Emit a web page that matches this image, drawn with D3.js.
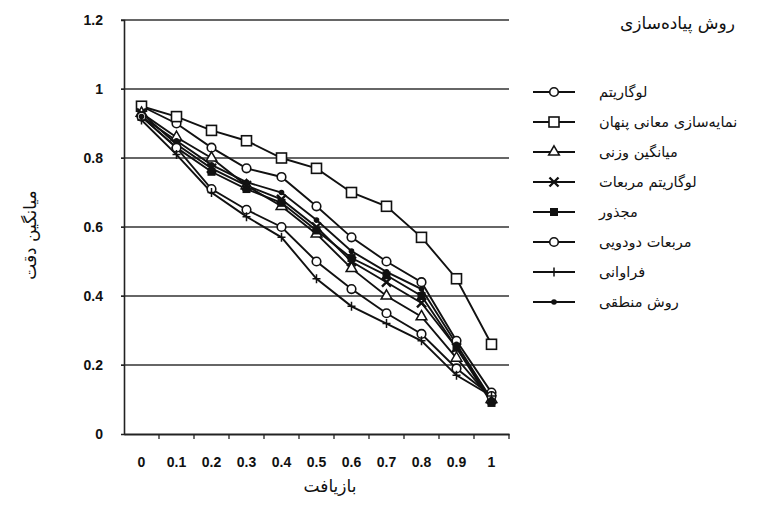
<!DOCTYPE html>
<html>
<head>
<meta charset="utf-8">
<script src="https://cdn.jsdelivr.net/npm/d3@7"></script>
<style>
  body { margin: 0; background: #fff; }
  .tick text { font-family: "Liberation Sans", Arial, sans-serif; font-weight: bold; font-size: 14px; fill: #111; }
  .fa { font-family: "DejaVu Sans", sans-serif; fill: #111; }
</style>
</head>
<body>
<div id="chart"></div>
<script>
// categories (recall levels)
var recall = ["0", "0.1", "0.2", "0.3", "0.4", "0.5", "0.6", "0.7", "0.8", "0.9", "1"];
var yTicks = [0, 0.2, 0.4, 0.6, 0.8, 1, 1.2];

// series values
var logS      = [0.95, 0.90, 0.83, 0.77, 0.745, 0.66, 0.57, 0.50, 0.44, 0.27, 0.12];
var lsiS      = [0.95, 0.92, 0.88, 0.85, 0.80, 0.77, 0.70, 0.66, 0.57, 0.45, 0.26];
var weightedS = [0.93, 0.86, 0.80, 0.72, 0.66, 0.58, 0.48, 0.40, 0.34, 0.22, 0.10];
var logSqS    = [0.93, 0.84, 0.77, 0.72, 0.68, 0.60, 0.50, 0.44, 0.38, 0.25, 0.10];
var sqrtS     = [0.92, 0.83, 0.76, 0.71, 0.67, 0.59, 0.51, 0.46, 0.40, 0.25, 0.09];
var binaryS   = [0.92, 0.83, 0.71, 0.65, 0.60, 0.50, 0.42, 0.35, 0.29, 0.19, 0.11];
var freqS     = [0.91, 0.81, 0.70, 0.63, 0.57, 0.45, 0.37, 0.32, 0.27, 0.17, 0.11];
var logicS    = [0.92, 0.85, 0.78, 0.73, 0.70, 0.62, 0.53, 0.47, 0.42, 0.26, 0.10];

var names = ["لوگاریتم", "نمایه‌سازی معانی پنهان", "میانگین وزنی", "لوگاریتم مربعات",
             "مجذور", "مربعات دودویی", "فراوانی", "روش منطقی"];

var series = [
    { name: names[0], values: logS,      shape: "circle" },
    { name: names[1], values: lsiS,      shape: "square" },
    { name: names[2], values: weightedS, shape: "triangle" },
    { name: names[3], values: logSqS,    shape: "times" },
    { name: names[4], values: sqrtS,     shape: "fsquare" },
    { name: names[5], values: binaryS,   shape: "circle" },
    { name: names[6], values: freqS,     shape: "plus" },
    { name: names[7], values: logicS,    shape: "dot" }
];

var W = 759, H = 522;
var svg = d3.select("#chart").append("svg")
    .attr("width", W).attr("height", H);

var x = d3.scaleBand().domain(recall).range([124, 509]);
var y = d3.scaleLinear().domain([0, 1.2]).range([434, 20]);

// gridlines
svg.append("g")
    .selectAll("line")
    .data(yTicks.filter(function(d){ return d > 0; }))
    .enter().append("line")
    .attr("x1", 121).attr("x2", 509)
    .attr("y1", function(d){ return y(d); })
    .attr("y2", function(d){ return y(d); })
    .attr("stroke", "#333").attr("stroke-width", 1.4);

// y axis
var yAxis = svg.append("g")
    .attr("transform", "translate(124,0)")
    .call(d3.axisLeft(y).tickValues(yTicks).tickSize(3).tickPadding(18)
        .tickFormat(function(d){ return d3.format("")(d); }));
yAxis.select(".domain").attr("stroke", "#222").attr("stroke-width", 1.6);
yAxis.selectAll(".tick line").attr("stroke", "#222");

// x axis, ticks between categories
var xAxis = svg.append("g")
    .attr("transform", "translate(0,434)")
    .call(d3.axisBottom(x).tickSize(0).tickPadding(23));
xAxis.select(".domain").attr("stroke", "#222").attr("stroke-width", 1.8);
xAxis.append("g").selectAll("line")
    .data(recall)
    .enter().append("line")
    .attr("x1", function(d){ return x(d) + x.bandwidth(); })
    .attr("x2", function(d){ return x(d) + x.bandwidth(); })
    .attr("y1", 0).attr("y2", 5)
    .attr("stroke", "#222").attr("stroke-width", 1.3);

function cx(i){ return x(recall[i]) + x.bandwidth() / 2; }

var line = d3.line()
    .x(function(d, i){ return cx(i); })
    .y(function(d){ return y(d); });

function drawMarker(g, shape, px, py) {
    if (shape === "circle") {
        g.append("circle").attr("cx", px).attr("cy", py).attr("r", 4.3)
            .attr("fill", "#fff").attr("stroke", "#111").attr("stroke-width", 1.6);
    } else if (shape === "square") {
        g.append("rect").attr("x", px - 5).attr("y", py - 5).attr("width", 10).attr("height", 10)
            .attr("fill", "#fff").attr("stroke", "#111").attr("stroke-width", 1.6);
    } else if (shape === "triangle") {
        g.append("path").attr("transform", "translate(" + px + "," + py + ")")
            .attr("d", d3.symbol().type(d3.symbolTriangle).size(50)())
            .attr("fill", "#fff").attr("stroke", "#111").attr("stroke-width", 1.5);
    } else if (shape === "times") {
        g.append("path").attr("transform", "translate(" + px + "," + py + ")")
            .attr("d", d3.symbol().type(d3.symbolTimes).size(55)())
            .attr("fill", "none").attr("stroke", "#111").attr("stroke-width", 2.4);
    } else if (shape === "fsquare") {
        g.append("rect").attr("x", px - 4).attr("y", py - 4).attr("width", 8).attr("height", 8)
            .attr("fill", "#111");
    } else if (shape === "plus") {
        g.append("path").attr("transform", "translate(" + px + "," + py + ")")
            .attr("d", "M-4,0H4M0,-4.5V4.5")
            .attr("fill", "none").attr("stroke", "#111").attr("stroke-width", 1.5);
    } else if (shape === "dot") {
        g.append("circle").attr("cx", px).attr("cy", py).attr("r", 2.8).attr("fill", "#111");
    }
}

// lines, then markers
var plot = svg.append("g");
series.forEach(function(s){
    plot.append("path").datum(s.values)
        .attr("d", line)
        .attr("fill", "none").attr("stroke", "#111").attr("stroke-width", 1.9);
});
series.forEach(function(s){
    var g = plot.append("g");
    s.values.forEach(function(v, i){ drawMarker(g, s.shape, cx(i), y(v)); });
});

// legend
svg.append("text").attr("class", "fa")
    .attr("x", 735).attr("y", 29).attr("text-anchor", "end")
    .style("font-size", "17px")
    .text("روش پیاده‌سازی");

var legendY = d3.scalePoint().domain(names).range([92, 302]);
var legend = svg.append("g");
series.forEach(function(s){
    var ly = legendY(s.name);
    legend.append("line").attr("x1", 533).attr("x2", 575)
        .attr("y1", ly).attr("y2", ly)
        .attr("stroke", "#111").attr("stroke-width", 2);
    drawMarker(legend, s.shape, 554, ly);
    legend.append("text").attr("class", "fa")
        .attr("x", 599).attr("y", ly + 5)
        .style("font-size", "14.5px")
        .text(s.name);
});

// axis titles
svg.append("text").attr("class", "fa")
    .attr("transform", "translate(36,235) rotate(-90)")
    .attr("text-anchor", "middle")
    .style("font-size", "17px")
    .text("میانگین دقت");

svg.append("text").attr("class", "fa")
    .attr("x", 330).attr("y", 492).attr("text-anchor", "middle")
    .style("font-size", "17px")
    .text("بازیافت");
</script>
</body>
</html>
